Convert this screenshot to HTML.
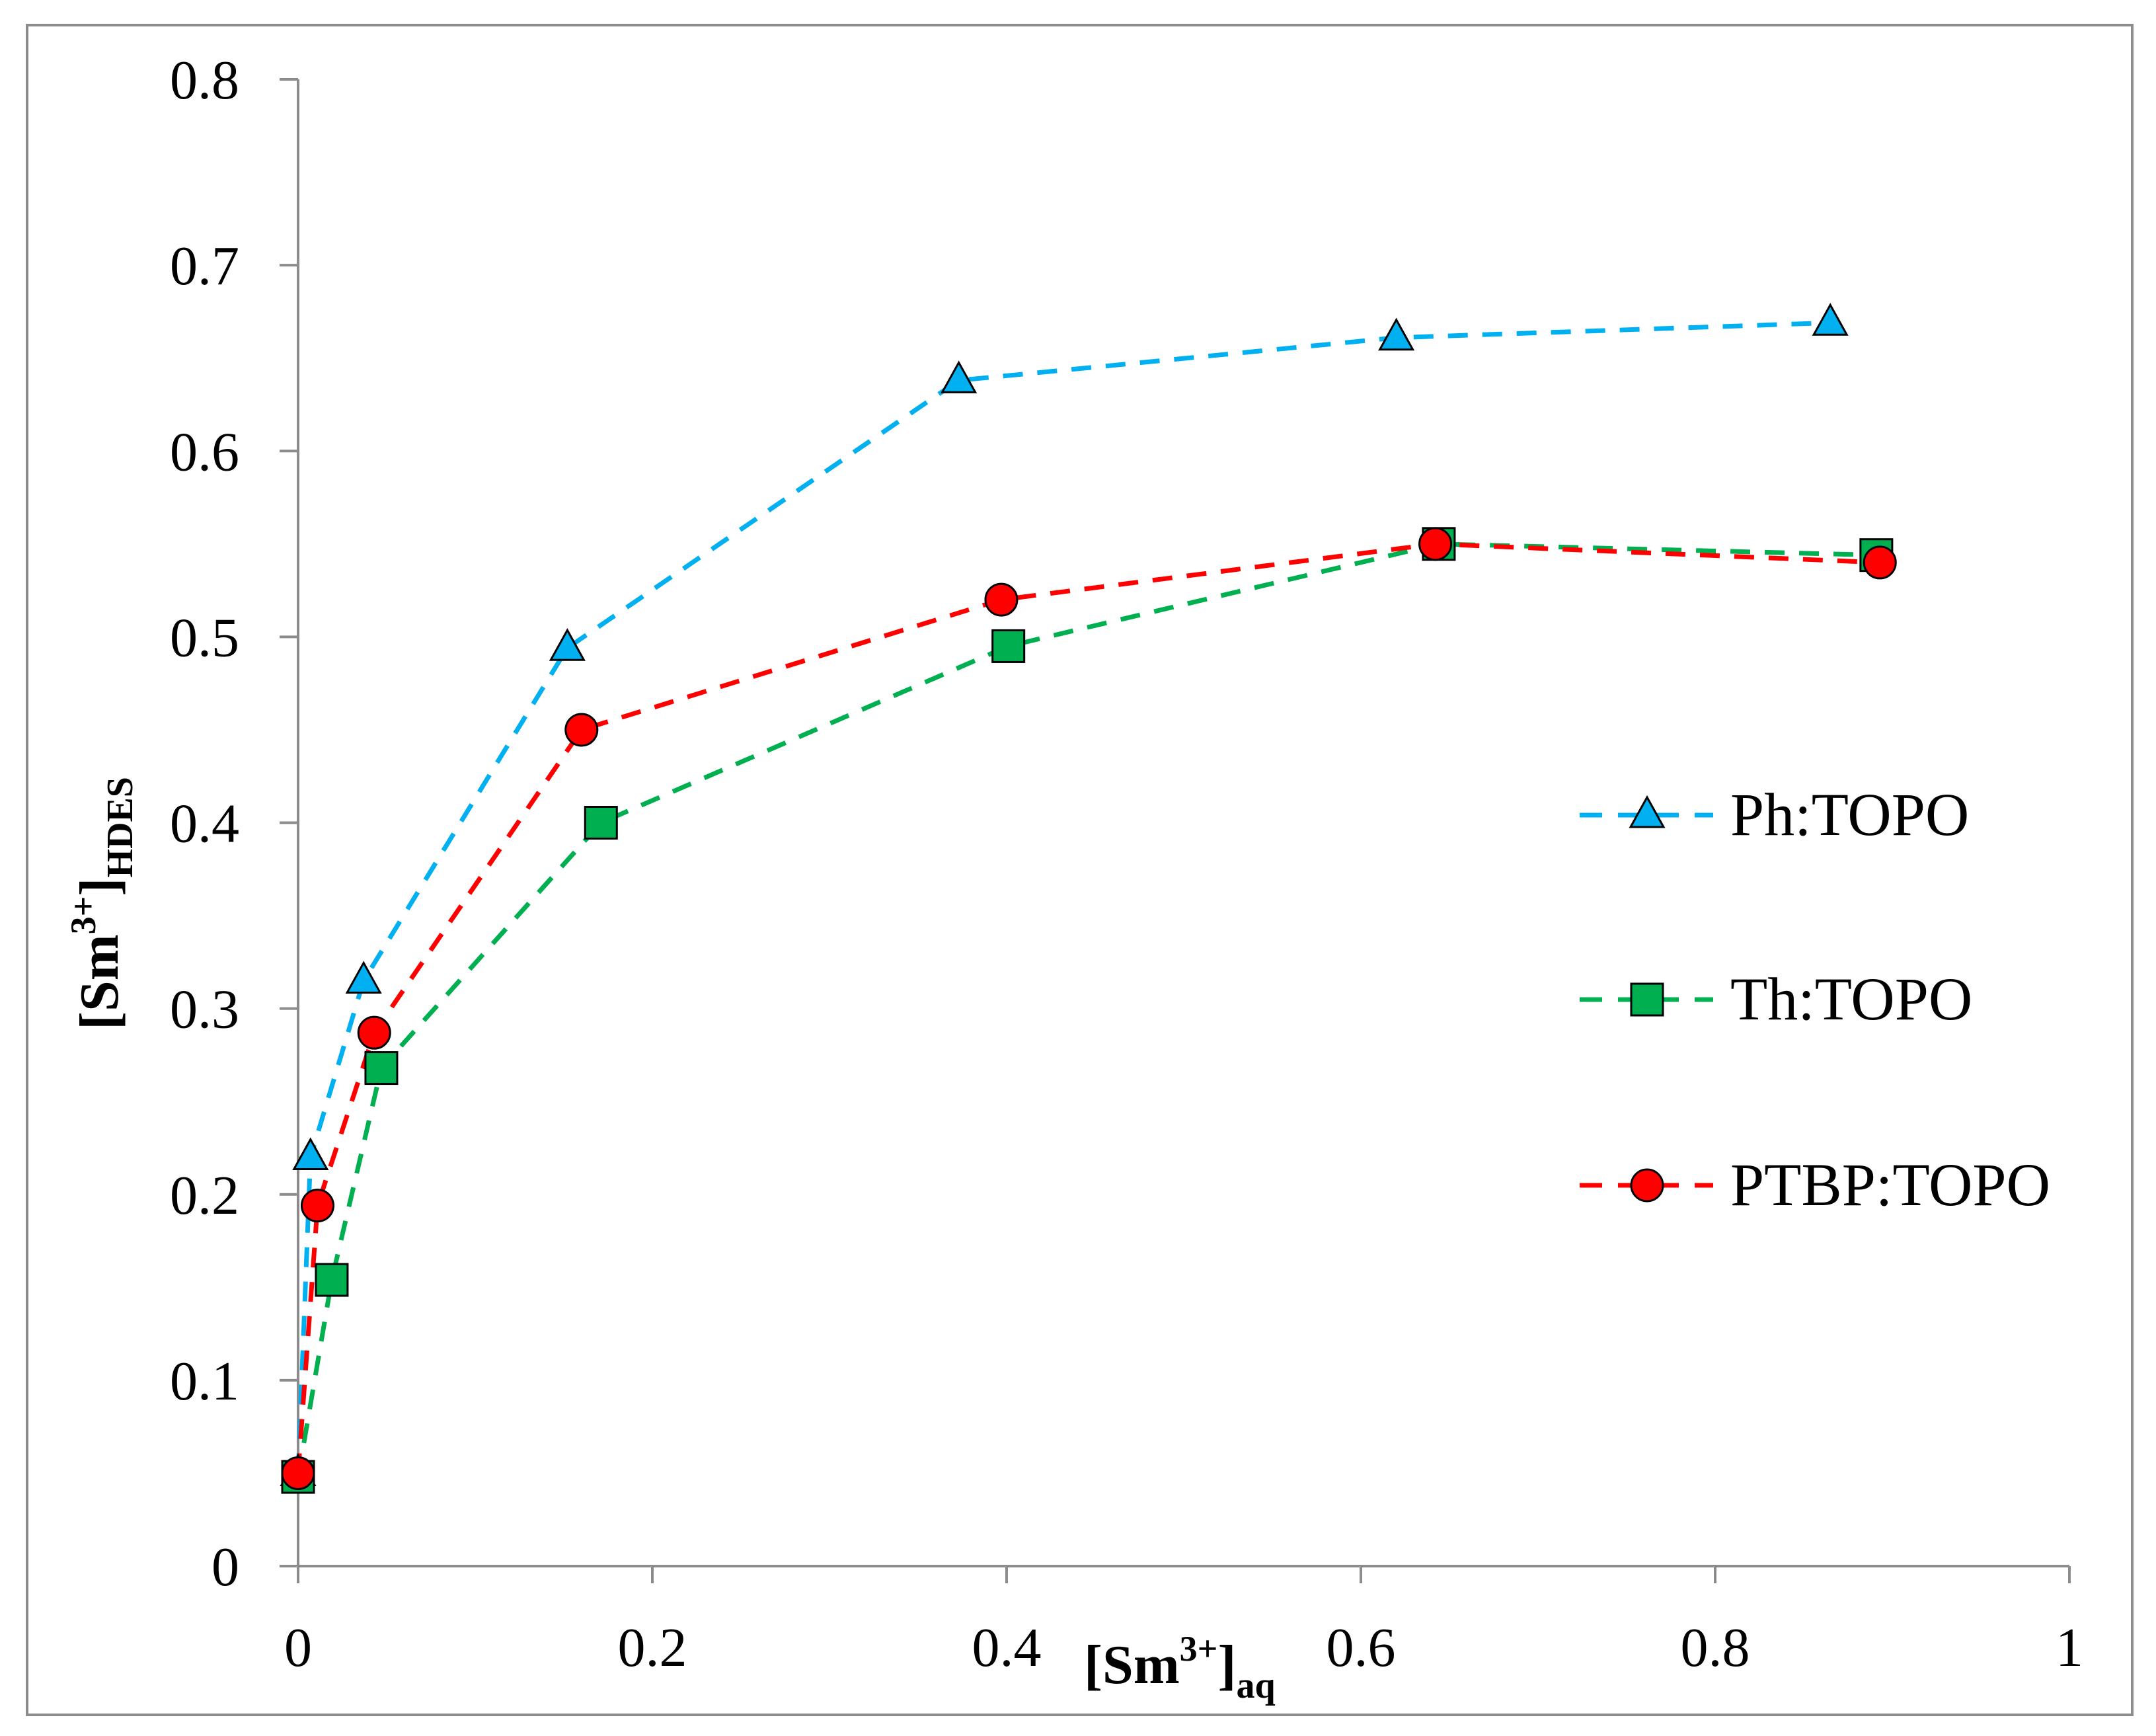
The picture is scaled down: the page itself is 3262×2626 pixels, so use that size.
<!DOCTYPE html>
<html><head><meta charset="utf-8"><style>
html,body{margin:0;padding:0;background:#fff}
svg{display:block}
text{font-family:"Liberation Serif",serif;fill:#000}
</style></head><body>
<svg id="chart" width="3262" height="2626" viewBox="0 0 3262 2626" xmlns="http://www.w3.org/2000/svg">
<rect x="41" y="38" width="3185" height="2556" fill="#fff" stroke="#8c8c8c" stroke-width="4"/>
<g id="axes"></g>
<g id="series"></g>
<g id="legend"></g>
<text x="1640" y="2546" font-size="84" font-weight="bold">[Sm<tspan font-size="54" dy="-34">3+</tspan><tspan font-size="84" dy="34">]</tspan><tspan font-size="56" dy="22">aq</tspan></text>
<text transform="translate(178,1558) rotate(-90)" font-size="84" font-weight="bold">[Sm<tspan font-size="54" dy="-34">3+</tspan><tspan dy="34">]</tspan><tspan font-size="56" dy="22">HDES</tspan></text>
</svg>
<script>
const xTicks = [0, 0.2, 0.4, 0.6, 0.8, 1];
const xTickLabels = ["0", "0.2", "0.4", "0.6", "0.8", "1"];
const yTicks = [0, 0.1, 0.2, 0.3, 0.4, 0.5, 0.6, 0.7, 0.8];
const yTickLabels = ["0", "0.1", "0.2", "0.3", "0.4", "0.5", "0.6", "0.7", "0.8"];
const seriesNames = ["Ph:TOPO", "Th:TOPO", "PTBP:TOPO"];
const phX = [0, 0.007, 0.037, 0.152, 0.373, 0.62, 0.865];
const phY = [0.05, 0.22, 0.315, 0.494, 0.638, 0.661, 0.669];
const thX = [0, 0.019, 0.047, 0.171, 0.401, 0.644, 0.891];
const thY = [0.048, 0.154, 0.268, 0.4, 0.495, 0.55, 0.544];
const ptX = [0, 0.011, 0.043, 0.16, 0.397, 0.642, 0.893];
const ptY = [0.05, 0.194, 0.287, 0.45, 0.52, 0.55, 0.54];

const NS = "http://www.w3.org/2000/svg";
const X0 = 451, X1 = 3131, Y0 = 2369, Y1 = 120;
function sx(v){ return X0 + v * (X1 - X0); }
function sy(v){ return Y0 - v / 0.8 * (Y0 - Y1); }
function mk(tag, attrs, parent){
  const e = document.createElementNS(NS, tag);
  for (const k in attrs) e.setAttribute(k, attrs[k]);
  parent.appendChild(e);
  return e;
}
const axes = document.getElementById("axes");
const ax = mk("line", {x1: X0, y1: Y0, x2: X1, y2: Y0, stroke: "#8c8c8c", "stroke-width": 4}, axes);


const ay = mk("line", {x1: X0, y1: Y0, x2: X0, y2: Y1, stroke: "#8c8c8c", "stroke-width": 4}, axes);


xTicks.forEach((v, i) => {
  const t = mk("line", {x1: sx(v), y1: Y0, x2: sx(v), y2: Y0 + 26, stroke: "#8c8c8c", "stroke-width": 4}, axes);
  
  
  const l = mk("text", {x: sx(v), y: 2520, "font-size": 84, "text-anchor": "middle"}, axes);
  l.textContent = xTickLabels[i];
  
  
});
yTicks.forEach((v, i) => {
  const t = mk("line", {x1: X0 - 28, y1: sy(v), x2: X0, y2: sy(v), stroke: "#8c8c8c", "stroke-width": 4}, axes);
  
  
  const l = mk("text", {x: 362, y: sy(v) + 29, "font-size": 84, "text-anchor": "end"}, axes);
  l.textContent = yTickLabels[i];
  
  
});

function marker(shape, cx, cy, color, parent){
  let m;
  if (shape === "tri") {
    m = mk("polygon", {points: `${cx},${cy-27} ${cx-25},${cy+18} ${cx+25},${cy+18}`, fill: color, stroke: "#000", "stroke-width": 3}, parent);
  } else if (shape === "sq") {
    m = mk("rect", {x: cx-24, y: cy-24, width: 48, height: 48, fill: color, stroke: "#000", "stroke-width": 3}, parent);
  } else {
    m = mk("circle", {cx: cx, cy: cy, r: 24, fill: color, stroke: "#000", "stroke-width": 3}, parent);
  }
  return m;
}
const seriesG = document.getElementById("series");
const defs = [
  {xs: phX, ys: phY, color: "#00b0f0", shape: "tri", key: "ph-topo"},
  {xs: thX, ys: thY, color: "#00b050", shape: "sq", key: "th-topo"},
  {xs: ptX, ys: ptY, color: "#ff0000", shape: "circ", key: "ptbp-topo"}
];
defs.forEach(d => {
  const pts = d.xs.map((x, i) => sx(x) + "," + sy(d.ys[i])).join(" ");
  const pl = mk("polyline", {points: pts, fill: "none", stroke: d.color, "stroke-width": 7, "stroke-dasharray": "30 22"}, seriesG);
  
  
});
defs.forEach(d => {
  d.xs.forEach((x, i) => {
    const m = marker(d.shape, sx(x), sy(d.ys[i]), d.color, seriesG);
    
    
  });
});
const legend = document.getElementById("legend");
const rowY = [1233, 1512, 1793];
defs.forEach((d, i) => {
  const g = mk("g", {}, legend);
  
  
  mk("line", {x1: 2390, y1: rowY[i], x2: 2592, y2: rowY[i], stroke: d.color, "stroke-width": 7, "stroke-dasharray": "34 24"}, g);
  marker(d.shape, 2492, rowY[i], d.color, g);
  const t = mk("text", {x: 2618, y: rowY[i] + 30, "font-size": 92}, g);
  t.textContent = seriesNames[i];
});
</script>
</body></html>
